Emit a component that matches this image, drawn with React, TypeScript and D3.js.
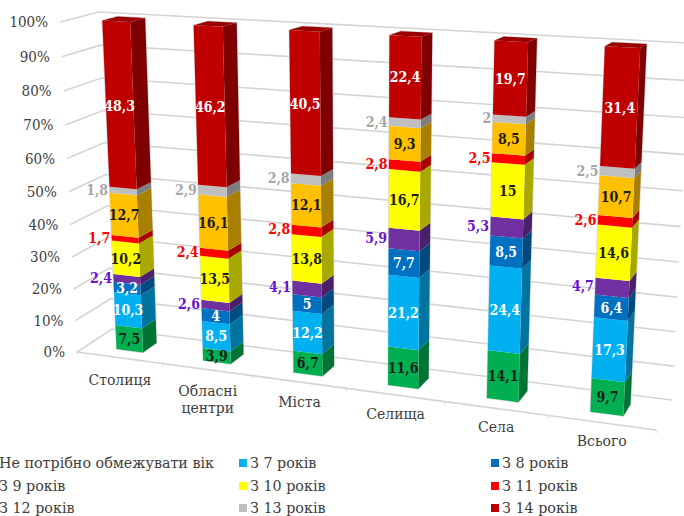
import React from "react";
import * as d3 from "d3";

const categories = ["Столиця", "Обласні\nцентри", "Міста", "Селища", "Села", "Всього"];
const noLimit = [7.5, 3.9, 6.7, 11.6, 14.1, 9.7];
const from7 = [10.3, 8.5, 12.2, 21.2, 24.4, 17.3];
const from8 = [3.2, 4, 5, 7.7, 8.5, 6.4];
const from9 = [2.4, 2.6, 4.1, 5.9, 5.3, 4.7];
const from10 = [10.2, 13.5, 13.8, 16.7, 15, 14.6];
const from11 = [1.7, 2.4, 2.8, 2.8, 2.5, 2.6];
const from12 = [12.7, 16.1, 12.1, 9.3, 8.5, 10.7];
const from13 = [1.8, 2.9, 2.8, 2.4, 2, 2.5];
const from14 = [48.3, 46.2, 40.5, 22.4, 19.7, 31.4];

const seriesNames = [
  "Не потрібно обмежувати вік", "З 7 років", "З 8 років",
  "З 9 років", "З 10 років", "З 11 років",
  "З 12 років", "З 13 років", "З 14 років",
];
const seriesValues = [noLimit, from7, from8, from9, from10, from11, from12, from13, from14];
const seriesColors = ["#00b050", "#00b0f0", "#0070c0", "#7030a0", "#ffff00", "#ff0000", "#ffc000", "#bfbfbf", "#c00000"];
const labelColors = ["#1c1c1c", "#ffffff", "#ffffff", "#6a10d0", "#1c1c1c", "#ff0000", "#1c1c1c", "#a6a6a6", "#ffffff"];
const outsideLabel = [false, false, false, true, false, true, false, true, false];
const tickValues = d3.range(0, 101, 10);

const FONT = "'DejaVu Serif', serif";
const FONT_NARROW = "'DejaVu Serif Condensed', 'DejaVu Serif', serif";
type Pt = [number, number];

// Maps the unit square onto a quad (projective), corners given as (0,0) (1,0) (1,1) (0,1).
function quadMap(p0: Pt, p1: Pt, p2: Pt, p3: Pt) {
  const dx1 = p1[0] - p2[0], dx2 = p3[0] - p2[0], sx = p0[0] - p1[0] + p2[0] - p3[0];
  const dy1 = p1[1] - p2[1], dy2 = p3[1] - p2[1], sy = p0[1] - p1[1] + p2[1] - p3[1];
  const den = dx1 * dy2 - dx2 * dy1;
  const g = (sx * dy2 - dx2 * sy) / den;
  const h = (dx1 * sy - sx * dy1) / den;
  const a = p1[0] - p0[0] + g * p1[0], b = p3[0] - p0[0] + h * p3[0];
  const d = p1[1] - p0[1] + g * p1[1], e = p3[1] - p0[1] + h * p3[1];
  return (u: number, v: number): Pt => {
    const w = g * u + h * v + 1;
    return [(a * u + b * v + p0[0]) / w, (d * u + e * v + p0[1]) / w];
  };
}

// The chart box in perspective: front plane and back wall.
const frontPlane = quadMap([77, 352], [656, 430], [676, 53], [60, 22]);
const backPlane = quadMap([112, 329], [672, 400], [690, 43], [99, 12]);
const project = (u: number, v: number, depth: number): Pt => {
  const f = frontPlane(u, v), b = backPlane(u, v);
  return [f[0] + (b[0] - f[0]) * depth, f[1] + (b[1] - f[1]) * depth];
};

const xBand = d3.scaleBand<number>().domain(d3.range(categories.length)).range([0, 1]).paddingInner(0.69).paddingOuter(0.345);
const yValue = d3.scaleLinear().domain([0, 1]).range([0, 1]);
const yPercent = d3.scaleLinear().domain([0, 100]).range([0, 1]);
const DEPTH_NEAR = 0.3, DEPTH_FAR = 0.7;

const rows = categories.map((_, i) => {
  const row: Record<string, number> = {};
  seriesNames.forEach((s, k) => { row[s] = seriesValues[k][i]; });
  return row;
});
const stacked = d3.stack<Record<string, number>>().keys(seriesNames).offset(d3.stackOffsetExpand)(rows);

const poly = (pts: Pt[]) => "M" + pts.map((p) => p.join(",")).join("L") + "Z";
const shade = (c: string, f: number) => {
  const r = d3.rgb(c);
  return d3.rgb(r.r * f, r.g * f, r.b * f).formatHex();
};

export default function App() {
  const wallLine = (t: number) =>
    poly([project(0, yPercent(t), 0), project(0, yPercent(t), 1), project(1, yPercent(t), 1)]).replace("Z", "");
  return (
    <svg width={684} height={516} style={{ position: "absolute", left: 0, top: 0, display: "block", background: "#fff" }} fontFamily={FONT}>
      {tickValues.map((t) => {
        const p = project(0, yPercent(t), 0);
        return (
          <g key={t}>
            <path d={wallLine(t)} fill="none" stroke="#d4d4d4" strokeWidth={1.6} />
            <text x={p[0] - 12} y={p[1] + 5} textAnchor="end" fontSize={15} fontFamily={FONT_NARROW} fill="#404040">{t}%</text>
          </g>
        );
      })}
      <path d={poly([project(0, 0, 0), project(1, 0, 0)])} fill="none" stroke="#d4d4d4" strokeWidth={1.6} />
      {d3.range(categories.length + 1).map((i) => {
        const u = i / categories.length;
        const p = project(u, 0, 0);
        return <line key={i} x1={p[0]} y1={p[1]} x2={p[0]} y2={p[1] + 3} stroke="#d4d4d4" />;
      })}
      {categories.map((c, i) => {
        const u0 = xBand(i)!, u1 = u0 + xBand.bandwidth();
        return (
          <g key={c}>
            {/* pale rim behind the whole column */}
            <path
              d={poly([project(u0, 0, DEPTH_NEAR), project(u1, 0, DEPTH_NEAR), project(u1, 0, DEPTH_FAR), project(u1, 1, DEPTH_FAR), project(u0, 1, DEPTH_FAR), project(u0, 1, DEPTH_NEAR)])}
              fill="none" stroke="#d8d8d8" strokeWidth={1.4}
            />
            {stacked.map((layer, k) => {
              const [a, b] = layer[i];
              const v0 = yValue(a), v1 = yValue(b);
              const fill = seriesColors[k];
              const isTop = k === stacked.length - 1;
              return (
                <g key={k}>
                  <path d={poly([project(u1, v0, DEPTH_NEAR), project(u1, v0, DEPTH_FAR), project(u1, v1, DEPTH_FAR), project(u1, v1, DEPTH_NEAR)])} fill={shade(fill, 0.66)} />
                  <path d={poly([project(u0, v0, DEPTH_NEAR), project(u1, v0, DEPTH_NEAR), project(u1, v1, DEPTH_NEAR), project(u0, v1, DEPTH_NEAR)])} fill={fill} />
                  {isTop && <path d={poly([project(u0, v1, DEPTH_NEAR), project(u1, v1, DEPTH_NEAR), project(u1, v1, DEPTH_FAR), project(u0, v1, DEPTH_FAR)])} fill={shade(fill, 0.8)} />}
                </g>
              );
            })}
            {stacked.map((layer, k) => {
              const [a, b] = layer[i];
              const value = seriesValues[k][i];
              const mid = yValue((a + b) / 2);
              const text = String(value).replace(".", ",");
              if (outsideLabel[k]) {
                const p = project(u0, mid, DEPTH_NEAR);
                return <text key={k} x={p[0] - 1.5} y={p[1] + 5} textAnchor="end" fontSize={14} fontFamily={FONT_NARROW} fontWeight={700} fill={labelColors[k]}>{text}</text>;
              }
              const p = project((u0 + u1) / 2, mid, DEPTH_NEAR);
              return <text key={k} x={p[0]} y={p[1] + 5} textAnchor="middle" fontSize={14} fontFamily={FONT_NARROW} fontWeight={700} fill={labelColors[k]}>{text}</text>;
            })}
            {(() => {
              const uMid = (u0 + u1) / 2;
              const p = project(uMid, 0, 0);
              return c.split("\n").map((line, j) => (
                <text key={j} x={p[0] + 0.5} y={p[1] + 27.5 - 5 * uMid + j * 17} textAnchor="middle" fontSize={14} fill="#404040">{line}</text>
              ));
            })()}
          </g>
        );
      })}
      {seriesNames.map((name, k) => {
        const col = k % 3, row = Math.floor(k / 3);
        const colX = [-1, 250, 502][col];
        const rowY = [468, 491, 513][row];
        return (
          <g key={name}>
            <rect x={colX - 11} y={rowY - 9} width={8} height={8} fill={seriesColors[k]} />
            <text x={colX} y={rowY} fontSize={14.3} fill="#404040">{name}</text>
          </g>
        );
      })}
    </svg>
  );
}
